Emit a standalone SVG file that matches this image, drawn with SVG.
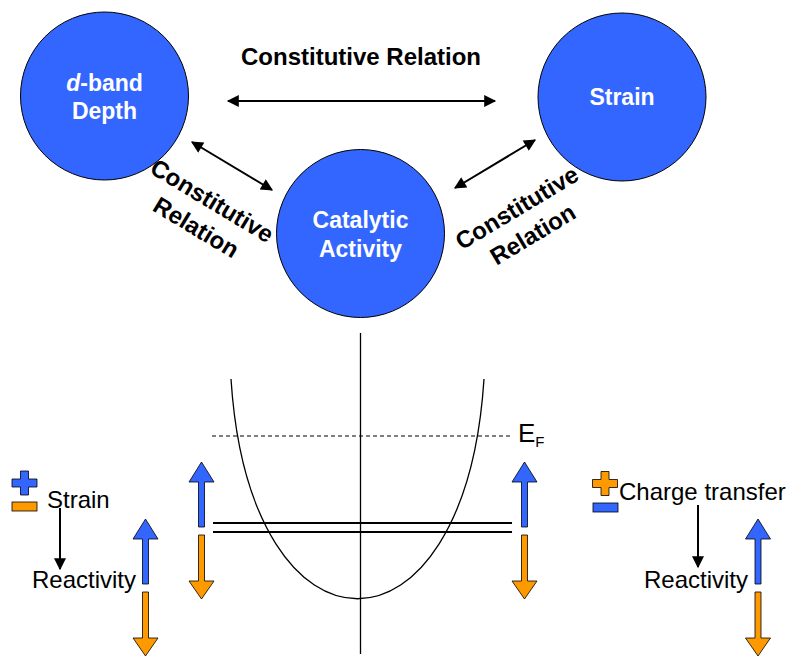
<svg xmlns="http://www.w3.org/2000/svg" width="791" height="656" viewBox="0 0 791 656">
<style>
.node circle{fill:#3366FF;stroke:#000;stroke-width:1}
.nt{font-family:"Liberation Sans",Arial,sans-serif;font-weight:bold;font-size:23px;fill:#fff;text-anchor:middle}
.lbl{font-family:"Liberation Sans",Arial,sans-serif;font-weight:bold;font-size:24px;fill:#000;text-anchor:middle}
.txt{font-family:"Liberation Sans",Arial,sans-serif;font-size:24px;fill:#000}
.con{stroke:#000;stroke-width:2;fill:none}
.thin{stroke:#000;stroke-width:1.3;fill:none}
.blue{fill:#3366FF;stroke:#000;stroke-width:0.8}
.orange{fill:#FF9900;stroke:#000;stroke-width:0.8}
</style>
<defs>
<marker id="ah" viewBox="0 0 10 10" refX="9" refY="5" markerWidth="7" markerHeight="6" markerUnits="strokeWidth" orient="auto-start-reverse"><path d="M0,0 L10,5 L0,10 Z" fill="#000"/></marker>
<path id="up" d="M0,0 L12.5,20 L3,20 L3,65 L-3,65 L-3,20 L-12.5,20 Z"/>
<path id="down" d="M-3,0 L3,0 L3,46 L12.5,46 L0,64 L-12.5,46 L-3,46 Z"/>
<path id="plus" d="M-4,-12 L4,-12 L4,-4 L12.5,-4 L12.5,4 L4,4 L4,12 L-4,12 L-4,4 L-12.5,4 L-12.5,-4 L-4,-4 Z"/>
</defs>

<g id="node-dband" class="node">
<circle cx="104.5" cy="96" r="84"/>
<text class="nt" x="104.5" y="91"><tspan font-style="italic">d</tspan>-band</text>
<text class="nt" x="104.5" y="119">Depth</text>
</g>
<g id="node-strain" class="node">
<circle cx="622" cy="97" r="84"/>
<text class="nt" x="622" y="105">Strain</text>
</g>
<g id="node-catalytic" class="node">
<circle cx="360.5" cy="233.5" r="84"/>
<text class="nt" x="360.5" y="228">Catalytic</text>
<text class="nt" x="360.5" y="257">Activity</text>
</g>

<g id="connectors">
<line class="con" x1="228" y1="101" x2="495" y2="101" marker-start="url(#ah)" marker-end="url(#ah)"/>
<line class="con" x1="192" y1="142" x2="272" y2="190" marker-start="url(#ah)" marker-end="url(#ah)"/>
<line class="con" x1="455" y1="188" x2="535" y2="140" marker-start="url(#ah)" marker-end="url(#ah)"/>
</g>

<g id="labels">
<text class="lbl" x="361" y="65">Constitutive Relation</text>
<g transform="translate(212,201) rotate(31)">
<text class="lbl" x="0" y="8">Constitutive</text>
<text class="lbl" x="0" y="39">Relation</text>
</g>
<g transform="translate(517,208) rotate(-31)">
<text class="lbl" x="0" y="8">Constitutive</text>
<text class="lbl" x="0" y="39">Relation</text>
</g>
</g>

<g id="band-diagram">
<line class="thin" x1="360.5" y1="333" x2="360.5" y2="654"/>
<path class="thin" d="M231,379 C250,672 465,672 484,379"/>
<line x1="212" y1="436" x2="513" y2="436" stroke="#000" stroke-width="1" stroke-dasharray="4,3"/>
<text class="txt" x="518" y="442" style="font-size:26px">E<tspan style="font-size:15px" dy="5">F</tspan></text>
<line class="con" x1="213" y1="523" x2="512" y2="523" stroke-width="1.8"/>
<line class="con" x1="213" y1="532" x2="512" y2="532" stroke-width="1.8"/>
<use href="#up" class="blue" x="201.5" y="462"/>
<use href="#down" class="orange" x="201.5" y="535"/>
<use href="#up" class="blue" x="524.5" y="462"/>
<use href="#down" class="orange" x="524.5" y="535"/>
</g>

<g id="strain-legend">
<use href="#plus" class="blue" x="24.5" y="483"/>
<rect class="orange" x="12" y="502" width="25" height="9"/>
<text class="txt" x="47" y="507.5">Strain</text>
<line class="con" x1="60" y1="508" x2="60" y2="569" marker-end="url(#ah)"/>
<text class="txt" x="32" y="588">Reactivity</text>
<use href="#up" class="blue" x="145.5" y="519"/>
<use href="#down" class="orange" x="145.5" y="592"/>
</g>

<g id="charge-legend">
<use href="#plus" class="orange" x="605" y="483.5"/>
<rect class="blue" x="593" y="503" width="25" height="9"/>
<text class="txt" x="619" y="500">Charge transfer</text>
<line class="con" x1="698" y1="505" x2="698" y2="567" marker-end="url(#ah)"/>
<text class="txt" x="644" y="588">Reactivity</text>
<use href="#up" class="blue" x="758" y="519"/>
<use href="#down" class="orange" x="758" y="592"/>
</g>
</svg>
